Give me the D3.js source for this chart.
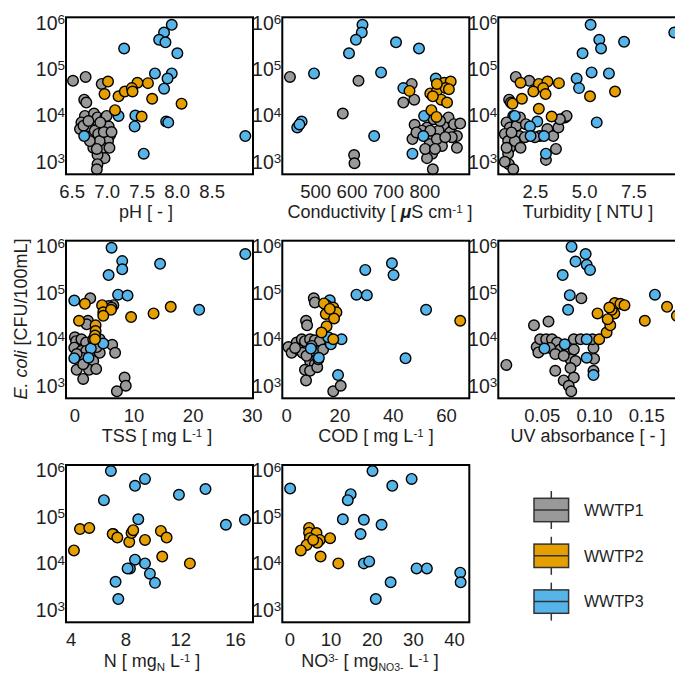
<!DOCTYPE html>
<html><head><meta charset="utf-8">
<script src="https://cdn.jsdelivr.net/npm/d3@7"></script>
<style>html,body{margin:0;padding:0;background:#fff;} svg{display:block;font-family:"Liberation Sans",Arial,Helvetica,sans-serif;}</style>
</head><body><div id="chart"></div>
<script>
// ---------------- DATA (x value, E. coli CFU/100mL) ----------------
const groups = ["WWTP1", "WWTP2", "WWTP3"];
const groupColors = ["#999999", "#E69F00", "#56B4E9"];
const yTicks = [1e3, 1e4, 1e5, 1e6];

const phGray = [[6.52,5.6e4],[6.70,6.8e4],[6.93,4.8e4],[6.68,2.2e4],[6.71,1.9e4],[6.69,9.8e3],[6.82,1.1e4],[6.87,9.1e3],[6.98,9.1e3],[6.64,7.1e3],[6.75,5.8e3],[6.62,5.1e3],[6.67,6.0e3],[6.92,6.3e3],[7.03,5.8e3],[6.83,4.7e3],[7.05,3.8e3],[7.01,3.5e3],[6.93,3.2e3],[6.88,4.0e3],[7.02,2.8e3],[6.81,2.0e3],[6.95,2.0e3],[7.04,2.0e3],[6.97,1.2e3],[6.87,1.4e3],[6.87,890],[6.86,690],[6.90,2.8e3],[6.76,2.8e3],[6.96,4.4e3],[7.07,4.4e3],[6.74,7.6e3],[6.86,1.9e3],[7.00,9.8e3],[6.91,7.1e3]];
const phOrange = [[7.02,5.4e4],[7.44,5.1e4],[7.59,5.0e4],[6.97,2.9e4],[7.17,2.6e4],[7.26,3.3e4],[7.36,3.9e4],[7.37,3.3e4],[7.65,2.3e4],[8.07,1.8e4],[7.12,1.3e4],[7.50,9.5e3]];
const phBlue = [[7.93,9.1e5],[7.82,6.2e5],[7.75,4.3e5],[7.84,3.8e5],[7.25,2.8e5],[8.01,2.2e5],[7.69,8.1e4],[7.93,8.1e4],[7.87,6.3e4],[7.82,3.8e4],[7.17,9.8e3],[7.41,1.0e4],[7.40,5.8e3],[7.85,7.4e3],[7.88,7.1e3],[6.68,3.6e3],[7.53,1.5e3],[8.98,3.6e3]];

const condGray = [[431,6.8e4],[619,5.6e4],[576,1.1e4],[607,1.4e3],[608,930],[765,4.8e4],[742,1.9e4],[772,2.2e4],[773,6.3e3],[767,3.1e3],[807,5.5e3],[821,3.6e3],[814,2.4e3],[821,1.5e3],[807,1.2e3],[823,690],[848,2.2e3],[852,6.0e3],[866,9.1e3],[870,4.3e3],[881,6.5e3],[898,6.7e3],[889,3.6e3],[889,2.0e3],[875,3.4e3],[839,4.7e3],[834,3.1e3],[793,4.7e3],[825,8.3e3],[857,3.4e3],[816,4.7e3],[802,1.9e3],[829,1.9e3],[778,4.3e3],[843,7.6e3]];
const condOrange = [[759,3.4e4],[816,3.0e4],[834,3.4e4],[854,5.1e4],[872,5.4e4],[858,3.9e4],[867,3.7e4],[846,2.2e4],[862,1.9e4],[819,1.3e4],[833,9.3e3],[834,4.8e4],[823,2.6e4]];
const condBlue = [[630,9.1e5],[628,6.2e5],[612,4.3e5],[593,2.2e5],[722,3.8e5],[785,2.8e5],[497,8.1e4],[681,8.5e4],[742,3.9e4],[831,6.3e4],[463,7.4e3],[451,5.5e3],[457,6.4e3],[799,9.8e3],[797,3.6e3],[662,3.6e3],[767,1.5e3]];

const turbGray = [[1.53,6.8e4],[2.21,5.6e4],[1.19,2.2e4],[1.28,1.9e4],[1.40,9.8e3],[1.06,7.1e3],[1.23,5.5e3],[0.97,4.0e3],[1.14,2.8e3],[1.23,2.0e3],[1.14,1.5e3],[1.18,890],[1.40,690],[1.57,6.0e3],[1.74,9.1e3],[1.70,3.6e3],[1.48,2.8e3],[1.77,2.0e3],[2.75,3.6e3],[3.13,5.1e3],[3.43,3.6e3],[3.69,5.5e3],[4.03,9.1e3],[4.11,9.8e3],[3.06,1.1e3],[3.57,1.9e3],[2.04,6.5e3],[1.99,3.4e3],[2.50,3.4e3],[1.06,2.0e3],[0.97,1.0e3],[1.31,4.3e3],[3.77,8.3e3]];
const turbOrange = [[1.77,5.1e4],[2.70,4.8e4],[3.14,5.4e4],[3.72,5.0e4],[2.42,3.3e4],[2.92,3.9e4],[3.04,2.9e4],[1.84,2.3e4],[1.36,1.8e4],[5.30,2.6e4],[6.57,3.3e4],[2.70,1.4e4],[3.35,9.5e3]];
const turbBlue = [[5.33,9.1e5],[9.58,6.2e5],[5.77,4.3e5],[7.03,3.9e5],[5.86,2.8e5],[4.92,2.2e5],[5.38,8.5e4],[6.26,8.1e4],[4.62,6.3e4],[4.74,3.9e4],[1.48,9.8e3],[2.62,7.4e3],[2.25,5.8e3],[2.28,3.6e3],[2.96,3.6e3],[5.64,7.1e3],[3.06,1.5e3]];

const tssGray = [[2.7,7.6e4],[6.6,5.4e4],[2.3,2.5e4],[2.1,2.1e4],[0.1,1.1e4],[0.3,9.1e3],[1.2,1.0e4],[2.0,8.5e3],[3.2,1.0e4],[4.3,1.0e4],[0.0,6.6e3],[1.2,5.6e3],[2.0,5.6e3],[3.5,5.6e3],[4.3,5.1e3],[2.4,4.0e3],[3.2,3.4e3],[0.4,2.2e3],[2.5,2.2e3],[3.7,2.3e3],[1.5,1.4e3],[6.4,7.6e3],[6.9,5.1e3],[8.5,1.5e3],[8.7,1.0e3],[7.2,760],[1.3,4.0e3],[0.4,4.8e3],[3.8,6.8e3],[5.8,5.2e4],[6.3,4.8e4],[1.5,2.9e3]];
const tssOrange = [[1.8,5.8e4],[4.7,5.4e4],[4.9,3.8e4],[6.2,4.3e4],[4.9,3.2e4],[0.8,2.5e4],[3.6,2.0e4],[3.6,1.5e4],[3.5,1.2e4],[3.5,1.0e4],[9.6,3.0e4],[13.4,3.6e4],[16.3,5.0e4]];
const tssBlue = [[6.3,9.3e5],[8.1,4.8e5],[8.1,3.2e5],[5.8,2.4e5],[14.5,4.2e5],[28.9,6.8e5],[0.0,6.8e4],[7.4,9.1e4],[9.0,8.7e4],[21.1,4.3e4],[4.9,8.1e3],[2.8,6.3e3],[2.4,4.0e3],[0.0,3.9e3]];

const codGray = [[10.4,7.6e4],[10.8,6.2e4],[7.5,2.5e4],[7.9,2.0e4],[0.9,6.8e3],[2.1,5.1e3],[4.0,8.5e3],[5.9,1.0e4],[4.6,6.0e3],[7.1,9.1e3],[9.0,1.0e4],[10.8,9.5e3],[12.7,9.1e3],[6.2,5.1e3],[8.3,4.4e3],[10.2,5.6e3],[12.1,5.6e3],[13.9,6.0e3],[9.0,3.4e3],[10.8,2.9e3],[7.1,2.2e3],[9.0,2.1e3],[7.5,1.3e3],[11.7,2.5e3],[17.7,760],[20.5,1.0e3],[7.7,4.4e3],[3.4,6.5e3],[12.1,3.7e3],[9.6,7.2e3]];
const codOrange = [[15.2,5.4e4],[14.2,5.9e4],[17.7,4.8e4],[18.9,3.8e4],[14.9,3.5e4],[18.0,2.8e4],[15.2,1.9e4],[13.3,1.4e4],[17.7,1.0e4],[65.3,2.5e4],[16.4,4.5e4]];
const codBlue = [[29.7,3.1e5],[39.7,4.3e5],[40.3,2.4e5],[26.4,9.1e4],[30.3,8.9e4],[52.5,4.3e4],[44.8,3.9e3],[16.4,6.9e4],[20.8,1.0e4],[16.8,7.8e3],[9.3,6.3e3],[12.3,4.0e3],[19.5,1.7e3],[15.8,1.1e4]];

const uvGray = [[0.016,2.8e3],[0.0425,2.0e4],[0.0564,2.4e4],[0.0879,7.6e4],[0.0451,6.8e3],[0.0484,1.0e4],[0.0542,1.0e4],[0.0597,1.0e4],[0.0646,8.5e3],[0.0678,6.0e3],[0.0467,5.2e3],[0.058,6.5e3],[0.0629,4.8e3],[0.0743,5.7e3],[0.0807,1.0e4],[0.0872,1.0e4],[0.0807,6.0e3],[0.0775,3.7e3],[0.0823,3.4e3],[0.0775,2.4e3],[0.0629,2.1e3],[0.071,1.3e3],[0.0807,1.5e3],[0.0758,1.0e3],[0.0782,760],[0.0995,6.5e3],[0.1001,3.8e3],[0.0995,2.1e3],[0.0985,1.0e4],[0.071,4.4e3]];
const uvOrange = [[0.1034,3.6e4],[0.105,1.0e4],[0.1121,1.4e4],[0.1156,2.0e4],[0.1195,3.6e4],[0.117,4.3e4],[0.120,6.0e4],[0.1253,5.8e4],[0.1292,5.4e4],[0.1147,4.8e4],[0.1487,2.5e4],[0.170,5.0e4],[0.1794,3.2e4],[0.1131,2.7e4]];
const uvBlue = [[0.0785,9.8e5],[0.092,6.8e5],[0.0823,4.7e5],[0.093,4.0e5],[0.0962,3.1e5],[0.070,2.4e5],[0.0768,8.9e4],[0.0752,4.3e4],[0.1584,9.1e4],[0.093,1.0e4],[0.072,7.8e3],[0.0525,6.3e3],[0.093,4.0e3],[0.0995,1.7e3]];

const nOrange = [[4.24,1.9e4],[4.68,5.5e4],[5.36,5.8e4],[7.07,4.3e4],[7.41,3.6e4],[8.28,2.9e4],[8.45,4.5e4],[8.57,5.2e4],[9.43,3.2e4],[10.59,5.0e4],[11.01,3.6e4],[10.69,1.4e4],[12.71,1.0e4]];
const nBlue = [[6.94,9.8e5],[9.43,6.6e5],[8.70,4.7e5],[6.43,2.3e5],[11.91,3.0e5],[13.85,4.0e5],[8.94,8.9e4],[7.11,4.3e4],[15.34,6.8e4],[16.73,8.7e4],[8.70,1.2e4],[9.43,1.0e4],[8.33,7.8e3],[9.79,6.0e3],[10.16,3.8e3],[7.28,4.0e3],[7.48,1.7e3],[8.16,7.8e3]];

const no3Orange = [[4.8,5.8e4],[4.8,4.6e4],[6.6,4.5e4],[5.0,3.5e4],[7.4,3.2e4],[6.8,2.8e4],[9.9,3.5e4],[4.2,2.5e4],[2.8,1.9e4],[7.6,1.4e4],[11.9,1.0e4],[5.8,3.2e4]];
const no3Blue = [[20.2,9.8e5],[29.7,6.6e5],[25.0,4.7e5],[0.2,4.1e5],[14.9,3.1e5],[14.2,2.3e5],[13.0,8.9e4],[18.1,8.7e4],[22.4,6.8e4],[17.3,4.3e4],[18.1,1.0e4],[19.4,1.1e4],[30.9,7.8e3],[33.4,7.8e3],[41.5,6.3e3],[41.6,3.9e3],[24.6,3.9e3],[21.0,1.7e3]];

const phTicks = [6.5, 7.0, 7.5, 8.0, 8.5];
const condTicks = [500, 600, 700, 800];
const turbTicks = [2.5, 5.0, 7.5];
const tssTicks = [0, 10, 20, 30];
const codTicks = [0, 20, 40, 60];
const uvTicks = [0.05, 0.10, 0.15];
const nTicks = [4, 8, 12, 16];
const no3Ticks = [0, 10, 20, 30, 40];

// ---------------- LAYOUT ----------------
const W = 675, H = 674;
const cols = [[66, 253], [282.3, 469.3], [498.3, 685.3]];
const rows = [[17.3, 174.3], [240.7, 398.3], [465, 622.3]];
const titleOffset = [44, 44, 45];
const yDomain = [537, 1.32e6];

const panels = [
  {r:0,c:0, dom:[6.42,9.09], ticks:phTicks, fmt:d3.format(".1f"), tx:146, series:[phGray,phOrange,phBlue],
   title:[{t:"pH [ - ]"}]},
  {r:0,c:1, dom:[410,923], ticks:condTicks, fmt:d3.format("d"), tx:380, series:[condGray,condOrange,condBlue],
   title:[{t:"Conductivity [ "},{t:"\u03bc",b:true,i:true},{t:"S cm"},{t:"-1",s:"sup"},{t:" ]"}]},
  {r:0,c:2, dom:[0.64,10.14], ticks:turbTicks, fmt:d3.format(".1f"), tx:588, series:[turbGray,turbOrange,turbBlue],
   title:[{t:"Turbidity [ NTU ]"}]},
  {r:1,c:0, dom:[-1.4,30.2], ticks:tssTicks, fmt:d3.format("d"), tx:157, series:[tssGray,tssOrange,tssBlue],
   title:[{t:"TSS [ mg L"},{t:"-1",s:"sup"},{t:" ]"}]},
  {r:1,c:1, dom:[-1.4,68.7], ticks:codTicks, fmt:d3.format("d"), tx:376, series:[codGray,codOrange,codBlue],
   title:[{t:"COD [ mg L"},{t:"-1",s:"sup"},{t:" ]"}]},
  {r:1,c:2, dom:[0.0083,0.1875], ticks:uvTicks, fmt:d3.format(".2f"), tx:588, series:[uvGray,uvOrange,uvBlue],
   title:[{t:"UV absorbance [ - ]"}]},
  {r:2,c:0, dom:[3.66,17.32], ticks:nTicks, fmt:d3.format("d"), tx:152, series:[[],nOrange,nBlue],
   title:[{t:"N [ mg"},{t:"N",s:"sub"},{t:" L"},{t:"-1",s:"sup"},{t:" ]"}]},
  {r:2,c:1, dom:[-1.7,43.7], ticks:no3Ticks, fmt:d3.format("d"), tx:370, series:[[],no3Orange,no3Blue],
   title:[{t:"NO"},{t:"3-",s:"sup"},{t:" [ mg"},{t:"NO3-",s:"sub",fs:10.5},{t:" L"},{t:"-1",s:"sup"},{t:" ]"}]}
];

const svg = d3.select("#chart").append("svg").attr("width", W).attr("height", H);
const TXT = "#1e1e1e";

function rich(sel, parts) {
  let shift = 0;
  parts.forEach(p => {
    const ts = sel.append("tspan").text(p.t);
    const target = p.s === "sup" ? -5 : p.s === "sub" ? 3.5 : 0;
    const dy = target - shift;
    if (dy) ts.attr("dy", dy);
    shift = target;
    if (p.s) ts.attr("font-size", p.fs || 11.5);
    if (p.b) ts.attr("font-weight", "bold");
    if (p.i) ts.attr("font-style", "italic");
  });
}

const drawOrder = [0, 2, 1]; // gray, blue, orange on top

panels.forEach(p => {
  const [x0, x1] = cols[p.c], [y0, y1] = rows[p.r];
  const x = d3.scaleLinear().domain(p.dom).range([x0, x1]);
  const y = d3.scaleLog().domain(yDomain).range([y1, y0]);
  const g = svg.append("g");

  drawOrder.forEach(gi => {
    g.append("g").selectAll("circle").data(p.series[gi]).join("circle")
      .attr("cx", d => x(d[0])).attr("cy", d => y(d[1])).attr("r", 5.3)
      .attr("fill", groupColors[gi]).attr("stroke", "#000").attr("stroke-width", 1.4);
  });

  g.append("rect").attr("x", x0).attr("y", y0).attr("width", x1 - x0).attr("height", y1 - y0)
    .attr("fill", "none").attr("stroke", "#000").attr("stroke-width", 2);

  const ax = g.append("g").attr("transform", `translate(0,${y1})`)
    .call(d3.axisBottom(x).tickValues(p.ticks).tickFormat(p.fmt).tickSize(0).tickPadding(11));
  ax.select(".domain").remove();
  ax.selectAll("text").attr("font-size", 18.5).attr("fill", TXT)
    .attr("font-family", "'Liberation Sans',Arial,Helvetica,sans-serif");

  const ay = g.append("g").attr("transform", `translate(${x0},0)`)
    .call(d3.axisLeft(y).tickValues(yTicks).tickSize(0).tickFormat(""));
  ay.select(".domain").remove();
  yTicks.forEach(v => {
    const t = g.append("text").attr("x", x0 - 1).attr("y", y(v) + 6.8)
      .attr("text-anchor", "end").attr("fill", TXT).attr("font-size", 19.5);
    t.append("tspan").text("10");
    t.append("tspan").text(Math.round(Math.log10(v))).attr("font-size", 13.5).attr("dy", -5.5);
  });

  const tt = g.append("text").attr("x", p.tx).attr("y", y1 + titleOffset[p.r])
    .attr("text-anchor", "middle").attr("fill", TXT).attr("font-size", 18);
  rich(tt, p.title);
});

const yt = svg.append("text").attr("transform", "translate(27,319) rotate(-90)")
  .attr("text-anchor", "middle").attr("fill", TXT).attr("font-size", 18);
rich(yt, [{t:"E. coli", i:true}, {t:" [CFU/100mL]"}]);

const legY0 = 510, legStep = 45.8, legX = 551.3;
groups.forEach((name, i) => {
  const cy = legY0 + i * legStep;
  const lg = svg.append("g");
  lg.append("line").attr("x1", legX).attr("x2", legX).attr("y1", cy - 19).attr("y2", cy + 19)
    .attr("stroke", "#333").attr("stroke-width", 1.5);
  lg.append("rect").attr("x", legX - 17.3).attr("y", cy - 11.7).attr("width", 34.6).attr("height", 23.4)
    .attr("fill", groupColors[i]).attr("stroke", "#333").attr("stroke-width", 1.5);
  lg.append("line").attr("x1", legX - 17.3).attr("x2", legX + 17.3).attr("y1", cy).attr("y2", cy)
    .attr("stroke", "#333").attr("stroke-width", 1.5);
  lg.append("text").attr("x", 584).attr("y", cy + 5.8).attr("font-size", 16).attr("fill", TXT).text(name);
});
</script>
</body></html>
